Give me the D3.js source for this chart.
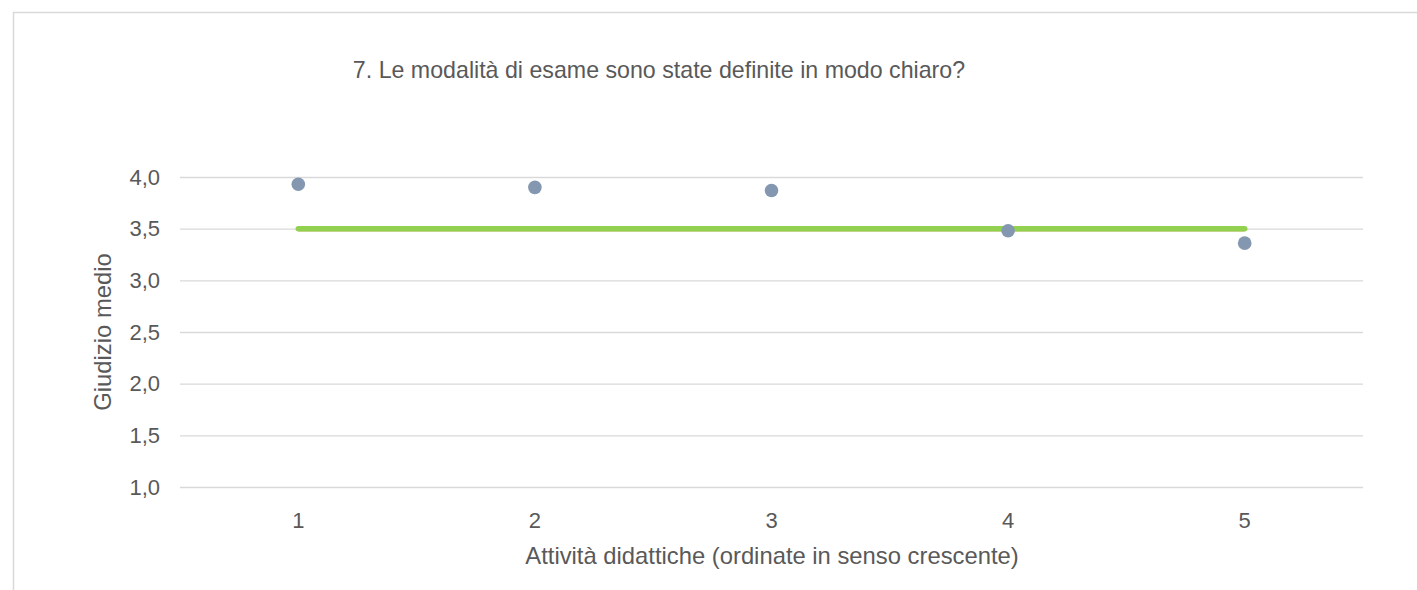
<!DOCTYPE html>
<html>
<head>
<meta charset="utf-8">
<script src="https://cdn.jsdelivr.net/npm/d3@7"></script>
<style>
  body { margin: 0; background: #fff; }
  svg { display: block; font-family: "Liberation Sans", Arial, sans-serif; }
</style>
</head>
<body>
<div id="chart"></div>
<script>
// data
const categories = ["1", "2", "3", "4", "5"];
const giudizio = [3.93, 3.90, 3.87, 3.48, 3.36];
const media = [3.5, 3.5, 3.5, 3.5, 3.5];
const yTicks = [1.0, 1.5, 2.0, 2.5, 3.0, 3.5, 4.0];

const width = 1417, height = 590;
const margin = {top: 177, right: 54, bottom: 103, left: 180};

const fmt = d3.format(".1f");
const comma = v => fmt(v).replace(".", ",");

const svg = d3.select("#chart").append("svg")
    .attr("width", width)
    .attr("height", height);

// chart frame
svg.append("rect")
    .attr("x", 13.5).attr("y", 12.5)
    .attr("width", 1420).attr("height", 600)
    .attr("fill", "none")
    .attr("stroke", "#d9d9d9")
    .attr("stroke-width", 1.5);

const x = d3.scaleBand()
    .domain(categories)
    .range([margin.left, width - margin.right]);

const y = d3.scaleLinear()
    .domain([1, 4])
    .range([height - margin.bottom, margin.top]);

// gridlines + y labels
const yAxis = svg.append("g")
    .attr("transform", `translate(${margin.left},0)`)
    .call(d3.axisLeft(y).tickValues(yTicks).tickFormat(comma)
      .tickSize(-(width - margin.left - margin.right)).tickPadding(20));
yAxis.select(".domain").remove();
yAxis.selectAll(".tick line").attr("stroke", "#d9d9d9").attr("stroke-width", 1.3);
yAxis.selectAll(".tick text")
    .attr("fill", "#595959")
    .style("font-size", "22px");

// x labels
const xAxis = svg.append("g")
    .attr("transform", `translate(0,${height - margin.bottom})`)
    .call(d3.axisBottom(x).tickSize(0).tickPadding(25));
xAxis.select(".domain").remove();
xAxis.selectAll(".tick text")
    .attr("fill", "#595959")
    .style("font-size", "22px");

const cx = d => x(d) + x.bandwidth() / 2;

// reference lines
const line = d3.line()
    .x((d, i) => cx(categories[i]))
    .y(d => y(d));

svg.append("path")
    .datum(media)
    .attr("d", line)
    .attr("transform", "translate(0,1.8)")
    .attr("fill", "none")
    .attr("stroke", "#c55a11")
    .attr("stroke-width", 1.5);

svg.append("path")
    .datum(media)
    .attr("d", line)
    .attr("fill", "none")
    .attr("stroke", "#92d050")
    .attr("stroke-width", 5.5)
    .attr("stroke-linecap", "round");

// points
svg.append("g")
  .selectAll("circle")
  .data(giudizio)
  .join("circle")
    .attr("cx", (d, i) => cx(categories[i]))
    .attr("cy", d => y(d))
    .attr("r", 6.8)
    .attr("fill", "#8497b0");

// title
svg.append("text")
    .attr("x", 659)
    .attr("y", 78)
    .attr("text-anchor", "middle")
    .attr("fill", "#595959")
    .style("font-size", "23.2px")
    .text("7. Le modalità di esame sono state definite in modo chiaro?");

// axis titles
svg.append("text")
    .attr("x", 772)
    .attr("y", 564)
    .attr("text-anchor", "middle")
    .attr("fill", "#595959")
    .style("font-size", "23.8px")
    .text("Attività didattiche (ordinate in senso crescente)");

svg.append("text")
    .attr("transform", "translate(111,332) rotate(-90)")
    .attr("text-anchor", "middle")
    .attr("fill", "#595959")
    .style("font-size", "23.8px")
    .text("Giudizio medio");
</script>
</body>
</html>
